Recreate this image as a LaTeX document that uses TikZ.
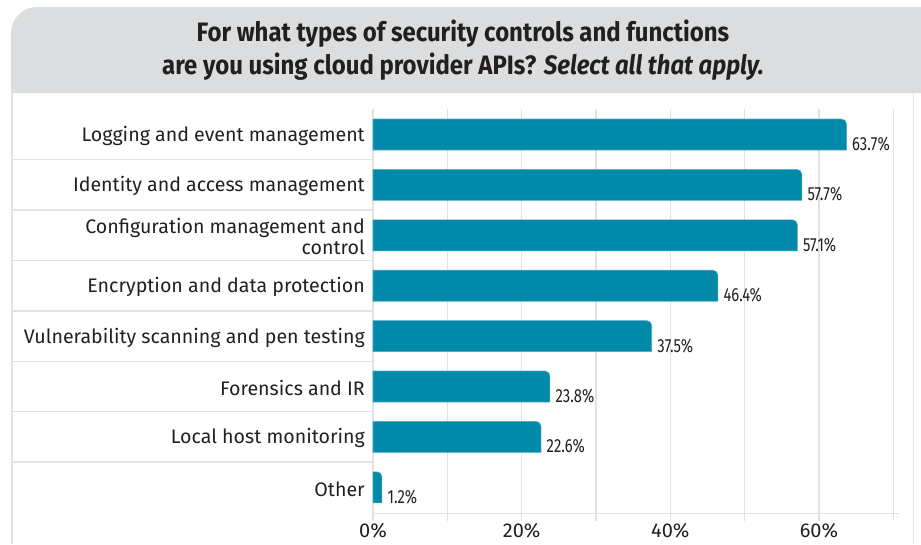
\documentclass[tikz,border=0pt]{standalone}
\usepackage{fontspec}
\setmainfont{Fira Sans}
\newfontfamily\condfont[FakeStretch=0.78]{Fira Sans}
\newfontfamily\titlefont[FakeStretch=0.9]{Fira Sans}
\definecolor{titlegrey}{HTML}{DCDDDF}
\definecolor{gridgrey}{HTML}{E2E2E3}
\definecolor{bartealc}{HTML}{0089A8}
\definecolor{baredge}{HTML}{4EADC4}
\definecolor{txt}{HTML}{231F20}
\tikzset{
  catlabel/.style={anchor=east, font=\fontsize{19.6}{21}\selectfont, text=txt, align=right, inner sep=0pt},
  vallabel/.style={anchor=base west, font=\condfont\fontsize{19}{21}\selectfont, text=txt, inner sep=0pt},
  axlabel/.style={anchor=base, font=\fontsize{20}{22}\selectfont, text=txt, inner sep=0pt},
  gridline/.style={draw=gridgrey, line width=1.3pt},
  barfill/.style={fill=bartealc, draw=baredge, line width=0.6pt},
}
\begin{document}
\begin{tikzpicture}[x=1pt,y=-1pt]
\useasboundingbox (0,0) rectangle (921,544);
% title band
\fill[titlegrey] (11,93) [rounded corners=26pt] -- (11,7) [sharp corners] -- (921,7) -- (921,93) -- cycle;
\node[font=\titlefont\bfseries\fontsize{26.6}{33}\selectfont, text=txt, align=center] (title) at (463,50)
  {For what types of security controls and functions\\are you using cloud provider APIs? {\itshape Select all that apply.}};
% panel borders
\draw[gridline, line width=1.6pt] (11.8,93) -- (11.8,544);
\draw[gridline, line width=1.6pt] (913.5,93) -- (913.5,544);
% grid
\foreach \i in {0,...,7} {
  \draw[gridline] ({373+74.33*\i},109) -- ({373+74.33*\i},521);
}
\draw[gridline] (373,513.5) -- (899,513.5);
\foreach \k in {0,...,6} {
  \draw[gridline] (12.5,{159.7+50.4*\k}) -- (373,{159.7+50.4*\k});
}
% bars
\foreach \v [count=\n from 0] in {63.7,57.7,57.1,46.4,37.5,23.8,22.6,1.2} {
  \pgfmathsetmacro{\c}{134.5+50.4*\n}
  \pgfmathsetmacro{\xe}{373+7.433*\v}
  \path[barfill] (373,\c+15.5) -- (373,\c-15.5) -- (\xe-5,\c-15.5)
     .. controls (\xe-2.2,\c-15.5) and (\xe,\c-13.3) .. (\xe,\c-10.5) -- (\xe,\c+15.5) -- cycle;
  \coordinate (e\n) at (\xe,\c+15.5);
  \node[vallabel] (v\n) at ([xshift=5.5pt,yshift=-0.5pt]e\n) {\v\%};
}
% category labels
\node[catlabel] (c0) at (365,{136+50.4*0}) {Logging and event management};
\node[catlabel] (c1) at (365,{136+50.4*1}) {Identity and access management};
\node[catlabel, font=\fontsize{19.6}{21}\selectfont] (c2) at (365,{135.5+50.4*2}) {Configuration management and\\control};
\node[catlabel] (c3) at (365,{136+50.4*3}) {Encryption and data protection};
\node[catlabel] (c4) at (365,{136+50.4*4}) {Vulnerability scanning and pen testing};
\node[catlabel] (c5) at (365,{136+50.4*5}) {Forensics and IR};
\node[catlabel] (c6) at (365,{136+50.4*6}) {Local host monitoring};
\node[catlabel] (c7) at (365,{136+50.4*7}) {Other};
% axis labels
\node[axlabel] (a0) at (373,537.5) {0\%};
\node[axlabel] (a1) at (521.7,537.5) {20\%};
\node[axlabel] (a2) at (670.3,537.5) {40\%};
\node[axlabel] (a3) at (819,537.5) {60\%};
\end{tikzpicture}
\end{document}
